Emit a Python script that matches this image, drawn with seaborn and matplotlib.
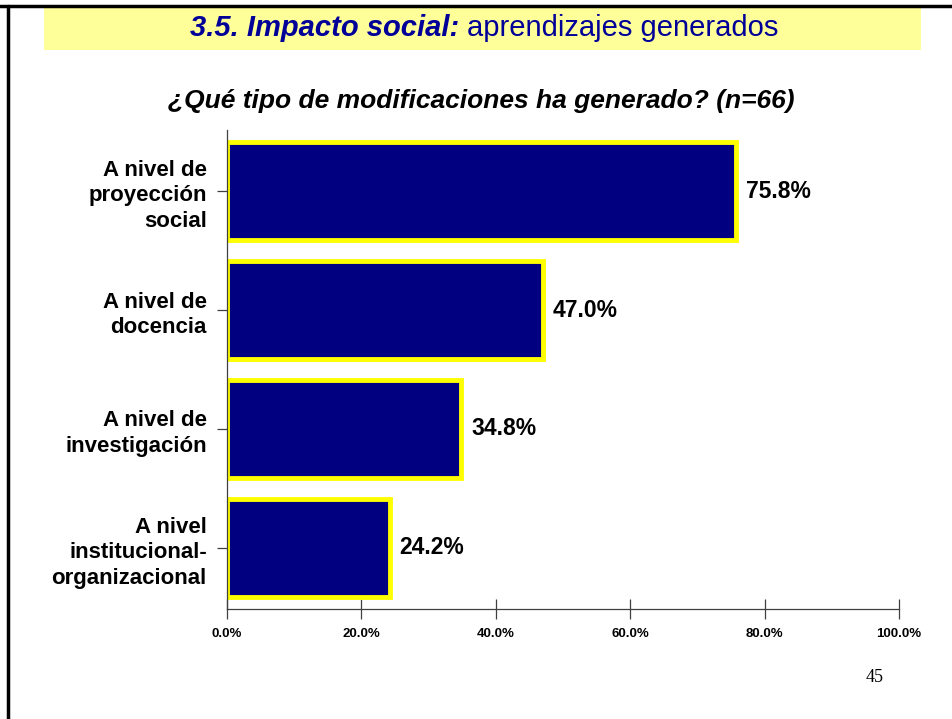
import pandas as pd
import matplotlib.pyplot as plt
import seaborn as sns
from matplotlib.patches import Rectangle
from matplotlib.lines import Line2D

# Data
categories = ["A nivel de\nproyección\nsocial",
              "A nivel de\ndocencia",
              "A nivel de\ninvestigación",
              "A nivel\ninstitucional-\norganizacional"]
values = [75.8, 47.0, 34.8, 24.2]
x_ticks = [0, 20, 40, 60, 80, 100]
x_tick_labels = ["0.0%", "20.0%", "40.0%", "60.0%", "80.0%", "100.0%"]

df = pd.DataFrame({"categoria": categories, "porcentaje": values})

sns.set_style("white")
plt.rcParams['font.family'] = ['Liberation Sans', 'DejaVu Sans']
plt.rcParams['text.color'] = "black"
plt.rcParams['xtick.color'] = "#404040"
plt.rcParams['ytick.color'] = "#404040"
plt.rcParams['xtick.labelcolor'] = "black"
plt.rcParams['ytick.labelcolor'] = "black"

fig = plt.figure(figsize=(9.52, 7.19), dpi=100)

# slide frame (top and left black border)
fig.add_artist(Line2D([0.0, 1.0], [1 - 5.5/719, 1 - 5.5/719], color="black", lw=2.5,
                      transform=fig.transFigure))
fig.add_artist(Line2D([8/952, 8/952], [0, 1 - 5.5/719], color="black", lw=2.5,
                      transform=fig.transFigure))

# yellow banner with heading
fig.add_artist(Rectangle((44/952, 1 - 50/719), (921 - 44)/952, 43/719,
                         facecolor="#FFFF99", edgecolor="none", transform=fig.transFigure))
fig.text(459/952, 1 - 28/719, "3.5. Impacto social:", ha="right", va="center",
         fontsize=21, fontweight="bold", style="italic", color="#000099")
fig.text(467/952, 1 - 28/719, "aprendizajes generados", ha="left", va="center",
         fontsize=21, color="#000099")

fig.text(481.5/952, 1 - 101/719, "¿Qué tipo de modificaciones ha generado? (n=66)",
         ha="center", va="center", fontsize=19, fontweight="bold", style="italic")

fig.text(875/952, 1 - 677/719, "45", ha="center", va="center", fontsize=13,
         family=["Liberation Serif", "DejaVu Serif"])

ax = fig.add_axes([227/952, 1 - 609/719, (899 - 227)/952, (609 - 130)/719])
sns.barplot(data=df, x="porcentaje", y="categoria", orient="h", ax=ax,
            color="#000080", saturation=1, width=0.82,
            edgecolor="#FFFF00", linewidth=3.5)

for bar, v in zip(ax.patches, values):
    ax.text(bar.get_width() + 1.5, bar.get_y() + bar.get_height() / 2,
            f"{v:.1f}%", ha="left", va="center", fontsize=16.5, fontweight="bold")

ax.set_xlim(0, 100)
ax.set_ylim(3.513, -0.513)
ax.set_xticks(x_ticks)
ax.set_xticklabels(x_tick_labels, fontsize=9.5, fontweight="bold")
ax.set_yticklabels(categories, fontsize=16, fontweight="bold", linespacing=1.28)
ax.set_xlabel("")
ax.set_ylabel("")
ax.tick_params(axis="both", direction="inout", length=15, width=0.9,
               bottom=True, left=True)
ax.tick_params(axis="x", pad=6)
ax.tick_params(axis="y", pad=7)
for side in ["top", "right"]:
    ax.spines[side].set_visible(False)
for side in ["left", "bottom"]:
    ax.spines[side].set_color("#404040")
    ax.spines[side].set_linewidth(0.9)

fig.savefig("out.png", dpi=100)
